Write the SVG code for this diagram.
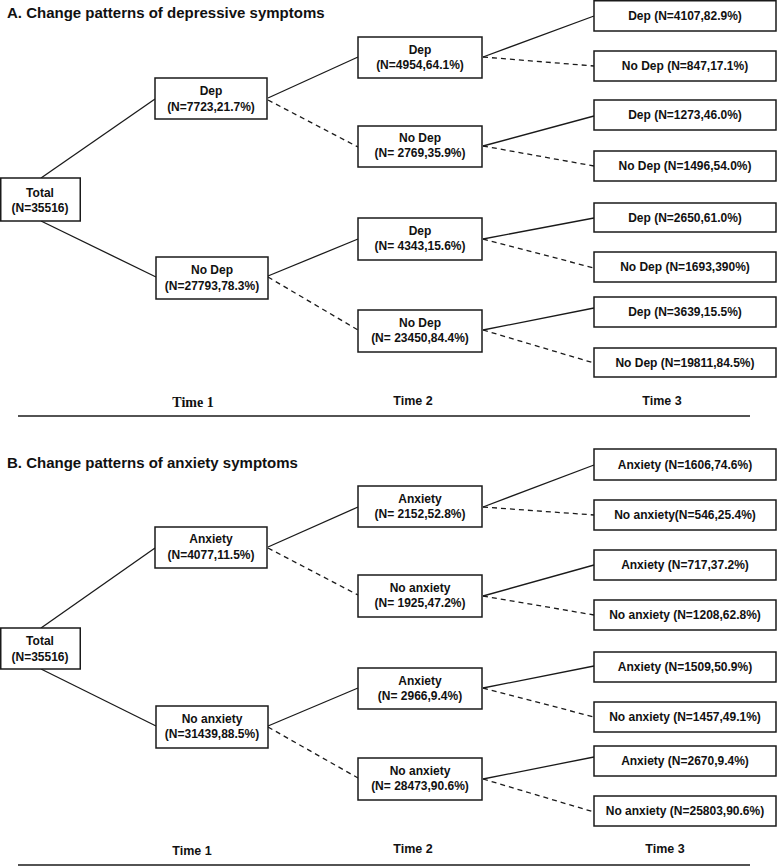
<svg xmlns="http://www.w3.org/2000/svg" width="777" height="866" viewBox="0 0 777 866">
<style>
.bx{fill:#fff;stroke:#1a1a1a;stroke-width:1.5}
.t{font-family:"Liberation Sans",Arial,sans-serif;font-weight:bold;font-size:12px;fill:#111;text-anchor:middle}
.ttl{font-family:"Liberation Sans",Arial,sans-serif;font-weight:bold;font-size:15px;fill:#111}
.tm{font-family:"Liberation Sans",Arial,sans-serif;font-weight:bold;font-size:12.5px;fill:#111;text-anchor:middle}
.tms{font-family:"Liberation Serif","Times New Roman",serif;font-weight:bold;font-size:14px;fill:#111;text-anchor:middle}
.s{stroke:#1a1a1a;stroke-width:1.3;fill:none}
.d{stroke:#1a1a1a;stroke-width:1.3;fill:none;stroke-dasharray:5,4}
.rule{stroke:#1a1a1a;stroke-width:1.5}
</style>
<rect width="777" height="866" fill="#fff"/>
<text class="ttl" x="7" y="18">A. Change patterns of depressive symptoms</text>
<text class="ttl" x="7" y="468">B. Change patterns of anxiety symptoms</text>
<g id="connectors">
<line class="s" x1="41" y1="178" x2="155" y2="99"/>
<line class="s" x1="41" y1="221" x2="156" y2="277"/>
<line class="s" x1="268" y1="98" x2="358" y2="57"/>
<line class="d" x1="268" y1="100" x2="358" y2="147"/>
<line class="s" x1="268" y1="276" x2="358" y2="239"/>
<line class="d" x1="268" y1="277" x2="358" y2="330"/>
<line class="s" x1="483" y1="57" x2="594" y2="16"/>
<line class="d" x1="483" y1="57" x2="594" y2="66"/>
<line class="s" x1="483" y1="146" x2="594" y2="116"/>
<line class="d" x1="483" y1="146" x2="594" y2="166"/>
<line class="s" x1="483" y1="239" x2="594" y2="218"/>
<line class="d" x1="483" y1="239" x2="594" y2="268"/>
<line class="s" x1="483" y1="330" x2="594" y2="308"/>
<line class="d" x1="483" y1="330" x2="594" y2="363"/>
<line class="s" x1="41" y1="628" x2="155" y2="548"/>
<line class="s" x1="41" y1="669" x2="156" y2="726"/>
<line class="s" x1="268" y1="547" x2="358" y2="507"/>
<line class="d" x1="268" y1="548" x2="358" y2="595"/>
<line class="s" x1="268" y1="726" x2="358" y2="688"/>
<line class="d" x1="268" y1="727" x2="358" y2="778"/>
<line class="s" x1="483" y1="507" x2="594" y2="465"/>
<line class="d" x1="483" y1="507" x2="594" y2="515"/>
<line class="s" x1="483" y1="596" x2="594" y2="565"/>
<line class="d" x1="483" y1="596" x2="594" y2="615"/>
<line class="s" x1="483" y1="688" x2="594" y2="666"/>
<line class="d" x1="483" y1="688" x2="594" y2="717"/>
<line class="s" x1="483" y1="779" x2="594" y2="757"/>
<line class="d" x1="483" y1="779" x2="594" y2="812"/>
</g>
<g id="a-total"><rect class="bx" x="0.75" y="178" width="79.5" height="43"/><text class="t" x="40" y="197">Total</text><text class="t" x="40" y="212">(N=35516)</text></g>
<g id="a-t1-dep"><rect class="bx" x="155" y="78" width="112" height="41"/><text class="t" x="211" y="95">Dep</text><text class="t" x="211" y="111">(N=7723,21.7%)</text></g>
<g id="a-t1-nodep"><rect class="bx" x="156" y="257" width="112" height="42"/><text class="t" x="212" y="274">No Dep</text><text class="t" x="212" y="290">(N=27793,78.3%)</text></g>
<g id="a-t2-dep1"><rect class="bx" x="358" y="37" width="124" height="41"/><text class="t" x="420" y="54">Dep</text><text class="t" x="420" y="69">(N=4954,64.1%)</text></g>
<g id="a-t2-nodep1"><rect class="bx" x="358" y="126" width="124" height="41"/><text class="t" x="420" y="142">No Dep</text><text class="t" x="420" y="157">(N= 2769,35.9%)</text></g>
<g id="a-t2-dep2"><rect class="bx" x="358" y="218" width="124" height="42"/><text class="t" x="420" y="235">Dep</text><text class="t" x="420" y="250">(N= 4343,15.6%)</text></g>
<g id="a-t2-nodep2"><rect class="bx" x="358" y="310" width="124" height="42"/><text class="t" x="420" y="327">No Dep</text><text class="t" x="420" y="342">(N= 23450,84.4%)</text></g>
<g id="a-t3-1"><rect class="bx" x="594" y="0.75" width="182" height="30.25"/><text class="t" x="685" y="20">Dep (N=4107,82.9%)</text></g>
<g id="a-t3-2"><rect class="bx" x="594" y="51" width="182" height="30"/><text class="t" x="685" y="70">No Dep (N=847,17.1%)</text></g>
<g id="a-t3-3"><rect class="bx" x="594" y="100" width="182" height="30"/><text class="t" x="685" y="119">Dep (N=1273,46.0%)</text></g>
<g id="a-t3-4"><rect class="bx" x="594" y="151" width="182" height="30"/><text class="t" x="685" y="170">No Dep (N=1496,54.0%)</text></g>
<g id="a-t3-5"><rect class="bx" x="594" y="203" width="182" height="29"/><text class="t" x="685" y="222">Dep (N=2650,61.0%)</text></g>
<g id="a-t3-6"><rect class="bx" x="594" y="252" width="182" height="30"/><text class="t" x="685" y="271">No Dep (N=1693,390%)</text></g>
<g id="a-t3-7"><rect class="bx" x="594" y="297" width="182" height="30"/><text class="t" x="685" y="316">Dep (N=3639,15.5%)</text></g>
<g id="a-t3-8"><rect class="bx" x="594" y="348" width="182" height="29"/><text class="t" x="685" y="367">No Dep (N=19811,84.5%)</text></g>
<text class="tms" x="193" y="407">Time 1</text>
<text class="tm" x="413" y="405">Time 2</text>
<text class="tm" x="662" y="405">Time 3</text>
<line class="rule" x1="18" y1="416" x2="750" y2="416"/>
<g id="b-total"><rect class="bx" x="0.75" y="628" width="79.5" height="41"/><text class="t" x="40" y="645">Total</text><text class="t" x="40" y="661">(N=35516)</text></g>
<g id="b-t1-anx"><rect class="bx" x="155" y="527" width="112" height="41"/><text class="t" x="211" y="543">Anxiety</text><text class="t" x="211" y="559">(N=4077,11.5%)</text></g>
<g id="b-t1-noanx"><rect class="bx" x="156" y="706" width="112" height="42"/><text class="t" x="212" y="723">No anxiety</text><text class="t" x="212" y="738">(N=31439,88.5%)</text></g>
<g id="b-t2-anx1"><rect class="bx" x="358" y="486" width="124" height="41"/><text class="t" x="420" y="503">Anxiety</text><text class="t" x="420" y="518">(N= 2152,52.8%)</text></g>
<g id="b-t2-noanx1"><rect class="bx" x="358" y="575" width="124" height="42"/><text class="t" x="420" y="592">No anxiety</text><text class="t" x="420" y="607">(N= 1925,47.2%)</text></g>
<g id="b-t2-anx2"><rect class="bx" x="358" y="668" width="124" height="41"/><text class="t" x="420" y="685">Anxiety</text><text class="t" x="420" y="700">(N= 2966,9.4%)</text></g>
<g id="b-t2-noanx2"><rect class="bx" x="358" y="758" width="124" height="42"/><text class="t" x="420" y="775">No anxiety</text><text class="t" x="420" y="790">(N= 28473,90.6%)</text></g>
<g id="b-t3-1"><rect class="bx" x="594" y="449" width="182" height="31"/><text class="t" x="685" y="469">Anxiety (N=1606,74.6%)</text></g>
<g id="b-t3-2"><rect class="bx" x="594" y="500" width="182" height="30"/><text class="t" x="685" y="519">No anxiety(N=546,25.4%)</text></g>
<g id="b-t3-3"><rect class="bx" x="594" y="550" width="182" height="30"/><text class="t" x="685" y="569">Anxiety (N=717,37.2%)</text></g>
<g id="b-t3-4"><rect class="bx" x="594" y="600" width="182" height="30"/><text class="t" x="685" y="619">No anxiety (N=1208,62.8%)</text></g>
<g id="b-t3-5"><rect class="bx" x="594" y="652" width="182" height="30"/><text class="t" x="685" y="671">Anxiety (N=1509,50.9%)</text></g>
<g id="b-t3-6"><rect class="bx" x="594" y="702" width="182" height="30"/><text class="t" x="685" y="721">No anxiety (N=1457,49.1%)</text></g>
<g id="b-t3-7"><rect class="bx" x="594" y="746" width="182" height="30"/><text class="t" x="685" y="765">Anxiety (N=2670,9.4%)</text></g>
<g id="b-t3-8"><rect class="bx" x="594" y="796" width="182" height="30"/><text class="t" x="685" y="815">No anxiety (N=25803,90.6%)</text></g>
<text class="tm" x="192" y="855">Time 1</text>
<text class="tm" x="413" y="853">Time 2</text>
<text class="tm" x="665" y="853">Time 3</text>
<line class="rule" x1="18" y1="865" x2="750" y2="865"/>
</svg>
